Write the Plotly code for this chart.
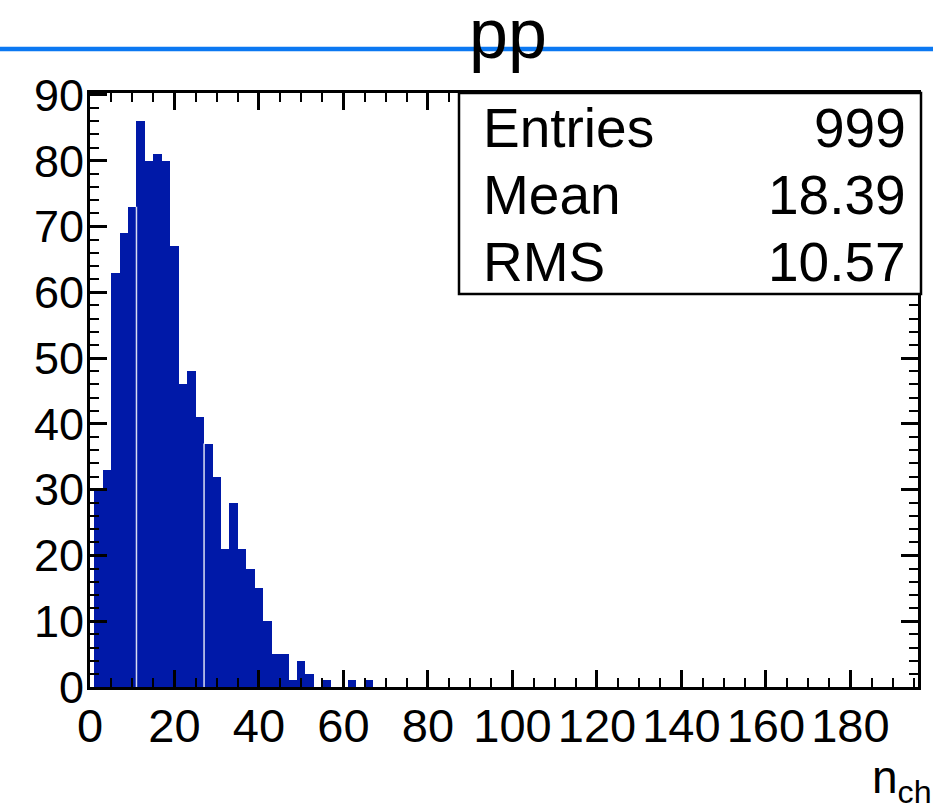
import plotly.graph_objects as go

# ---------------- data ----------------
bin_width = 2
bin_centers = [0, 2, 4, 6, 8, 10, 12, 14, 16, 18, 20, 22, 24, 26, 28, 30, 32, 34,
               36, 38, 40, 42, 44, 46, 48, 50, 52, 54, 56, 58, 60, 62, 64, 66]
counts = [0, 30, 33, 63, 69, 73, 86, 80, 81, 80, 67, 46, 48, 41, 37, 32, 21, 28,
          21, 18, 15, 10, 5, 5, 1, 4, 2, 0, 1, 0, 0, 1, 0, 1]
x_tick_values = [0, 20, 40, 60, 80, 100, 120, 140, 160, 180]
y_tick_values = [0, 10, 20, 30, 40, 50, 60, 70, 80, 90]
stats_labels = ["Entries", "Mean", "RMS"]
stats_values = ["999", "18.39", "10.57"]
title_text = "pp"
x_title = "n<sub>ch</sub>"
seam_bins = [5, 13]  # bins whose right edge shows a thin white seam in the original

# ---------------- layout constants ----------------
W, H = 933, 809
ML, MR, MT, MB = 90, 15, 93, 122
PW, PH = W - ML - MR, H - MT - MB
X_RANGE = [0, 196]
Y_RANGE = [0, 90.3]
FONT = "Liberation Sans, Arial, Helvetica, sans-serif"
BAR_COLOR = "#0019a8"


def px_x(p):
    return (p - ML) / PW


def px_y(p):
    return (H - MB - p) / PH


fig = go.Figure()
fig.add_trace(go.Bar(
    x=bin_centers, y=counts, width=bin_width,
    marker=dict(color=BAR_COLOR, line=dict(width=0)),
    showlegend=False, hoverinfo="x+y",
))

shapes = []
# thin white seams inside the filled area
for b in seam_bins:
    edge = bin_centers[b] + bin_width / 2
    top = min(counts[b], counts[b + 1])
    shapes.append(dict(type="line", xref="x", yref="y", x0=edge, x1=edge, y0=0, y1=top,
                       line=dict(color="rgba(255,255,255,0.85)", width=1.5), layer="above"))

# stats box
shapes.append(dict(type="rect", xref="paper", yref="paper",
                   x0=px_x(459), x1=px_x(921), y0=px_y(294), y1=1.0,
                   line=dict(color="black", width=2.5), fillcolor="white", layer="above"))

# blue rule across the page
shapes.append(dict(type="line", xref="paper", yref="paper",
                   x0=px_x(-5), x1=px_x(W + 5), y0=px_y(49), y1=px_y(49),
                   line=dict(color="#0b78f2", width=4.5), layer="above"))

annotations = []
row_y = [128, 195, 262]
for lab, val, yy in zip(stats_labels, stats_values, row_y):
    annotations.append(dict(text=lab, xref="paper", yref="paper", x=px_x(481), y=px_y(yy),
                            xanchor="left", yanchor="middle", showarrow=False,
                            font=dict(family=FONT, size=55, color="black")))
    annotations.append(dict(text=val, xref="paper", yref="paper", x=px_x(908), y=px_y(yy),
                            xanchor="right", yanchor="middle", showarrow=False,
                            font=dict(family=FONT, size=55, color="black")))

# title
annotations.append(dict(text=title_text, xref="paper", yref="paper", x=px_x(508), y=px_y(34),
                        xanchor="center", yanchor="middle", showarrow=False,
                        font=dict(family=FONT, size=70, color="black")))
# x axis title
annotations.append(dict(text=x_title, xref="paper", yref="paper", x=px_x(933), y=px_y(811),
                        xanchor="right", yanchor="bottom", showarrow=False, borderpad=0,
                        font=dict(family=FONT, size=46, color="black")))

axis_common = dict(
    showline=True, linewidth=3, linecolor="black", mirror="allticks",
    ticks="inside", tickwidth=2.5, tickcolor="black", ticklen=17,
    showgrid=False, zeroline=False,
)

fig.update_layout(
    width=W, height=H,
    margin=dict(l=ML, r=MR, t=MT, b=MB, pad=0),
    paper_bgcolor="white", plot_bgcolor="white",
    bargap=0,
    xaxis=dict(range=X_RANGE, tickmode="array", tickvals=x_tick_values,
               ticktext=[str(v) for v in x_tick_values],
               tickfont=dict(family=FONT, size=47, color="black"),
               ticklabelstandoff=-4,
               minor=dict(dtick=5, tick0=0, ticks="inside", ticklen=9, tickwidth=2, tickcolor="black"),
               **axis_common),
    yaxis=dict(range=Y_RANGE, tickmode="array", tickvals=y_tick_values,
               ticktext=[str(v) for v in y_tick_values],
               tickfont=dict(family=FONT, size=45, color="black"),
               ticklabelstandoff=-6,
               minor=dict(dtick=2, tick0=0, ticks="inside", ticklen=9, tickwidth=2, tickcolor="black"),
               **axis_common),
    shapes=shapes,
    annotations=annotations,
)

fig.write_html("out.html")
